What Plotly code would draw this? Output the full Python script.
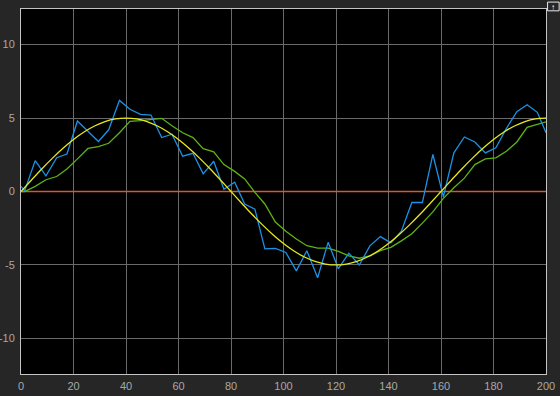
import plotly.graph_objects as go

# ---- data ----
t_sine = [0, 4, 8, 12, 16, 20, 24, 28, 32, 36, 40, 44, 48, 52, 56, 60, 64, 68, 72, 76,
          80, 84, 88, 92, 96, 100, 104, 108, 112, 116, 120, 124, 128, 132, 136, 140,
          144, 148, 152, 156, 160, 164, 168, 172, 176, 180, 184, 188, 192, 196, 200]
v_sine = [0.00, 0.78, 1.55, 2.27, 2.94, 3.54, 4.05, 4.46, 4.76, 4.94, 5.00, 4.94, 4.76,
          4.46, 4.05, 3.54, 2.94, 2.27, 1.55, 0.78, 0.00, -0.78, -1.55, -2.27, -2.94,
          -3.54, -4.05, -4.46, -4.76, -4.94, -5.00, -4.94, -4.76, -4.46, -4.05, -3.54,
          -2.94, -2.27, -1.55, -0.78, 0.00, 0.78, 1.55, 2.27, 2.94, 3.54, 4.05, 4.46,
          4.76, 4.94, 5.00]

t_meas = [0, 1.4, 5.4, 9.5, 13.6, 17.5, 21.5, 25.5, 29.5, 33.4, 37.5, 41.5, 45.5, 49.5,
          53.6, 57.5, 61.6, 65.5, 69.4, 73.4, 77.3, 81.4, 85.2, 89.1, 92.9, 96.9, 100.9,
          104.9, 108.9, 113.0, 117.0, 120.9, 124.9, 128.9, 132.9, 136.9, 140.9, 144.9,
          148.9, 152.9, 156.9, 160.9, 164.9, 168.9, 172.9, 176.9, 180.9, 184.9, 188.9,
          192.8, 196.7, 200]
v_noisy = [0.35, 0.05, 2.10, 1.07, 2.30, 2.55, 4.80, 4.10, 3.40, 4.20, 6.20, 5.60, 5.25,
           5.20, 3.67, 3.90, 2.40, 2.60, 1.20, 2.06, 0.15, 0.63, -0.86, -1.20, -3.90,
           -3.87, -4.15, -5.40, -4.03, -5.87, -3.46, -5.25, -4.20, -5.00, -3.70, -3.07,
           -3.50, -2.70, -0.75, -0.75, 2.52, -0.36, 2.63, 3.71, 3.37, 2.63, 2.98, 4.29,
           5.43, 5.90, 5.39, 4.00]
v_filtered = [0.00, 0.00, 0.35, 0.80, 1.02, 1.53, 2.22, 2.93, 3.05, 3.28, 4.00, 4.77, 4.82,
              4.92, 4.98, 4.47, 4.00, 3.67, 2.91, 2.70, 1.83, 1.37, 0.86, -0.06, -0.85,
              -2.08, -2.70, -3.23, -3.69, -3.85, -3.85, -4.08, -4.38, -4.54, -4.38, -4.03,
              -3.80, -3.36, -2.88, -2.15, -1.39, -0.47, 0.26, 0.91, 1.83, 2.22, 2.29, 2.74,
              3.37, 4.36, 4.54, 4.74]

t_zero = [0, 200]
v_zero = [0, 0]

x_ticks = [0, 20, 40, 60, 80, 100, 120, 140, 160, 180, 200]
y_ticks = [-10, -5, 0, 5, 10]
y_labels = ["-10", "-5", "0", "5", "10"]

fig = go.Figure()
fig.add_trace(go.Scatter(x=t_zero, y=v_zero, mode="lines",
                         line=dict(color="#d8582a", width=1.5)))
fig.add_trace(go.Scatter(x=t_meas, y=v_filtered, mode="lines",
                         line=dict(color="#5cb414", width=1.3)))
fig.add_trace(go.Scatter(x=t_meas, y=v_noisy, mode="lines",
                         line=dict(color="#1a92e6", width=1.3)))
fig.add_trace(go.Scatter(x=t_sine, y=v_sine, mode="lines", line_shape="spline",
                         line=dict(color="#e8e81c", width=1.3)))

axis_common = dict(showgrid=True, gridcolor="#6a6a6a", gridwidth=1, zeroline=False,
                   showline=True, linecolor="#c4c4c4", linewidth=1, mirror=True,
                   ticks="", automargin=False,
                   tickfont=dict(family="Liberation Sans, Arial", size=11,
                                 color="#a8a8a8"))

fig.update_layout(
    width=560, height=396,
    margin=dict(l=21, r=14, t=9, b=22),
    paper_bgcolor="#262626", plot_bgcolor="#000000",
    showlegend=False,
    xaxis=dict(range=[0, 200], tickvals=x_ticks, ticklabelstandoff=2, **axis_common),
    yaxis=dict(range=[-12.42, 12.42], tickvals=y_ticks, ticktext=y_labels,
               ticklabelstandoff=3, **axis_common),
    shapes=[dict(type="rect", xref="paper", yref="paper",
                 x0=1.003, x1=1.025, y0=0.995, y1=1.019,
                 line=dict(color="#e8e8e8", width=1), fillcolor="#262626")],
    annotations=[dict(text="↑", xref="paper", yref="paper", x=1.014, y=1.007,
                      showarrow=False, font=dict(size=8, color="#ffffff"),
                      xanchor="center", yanchor="middle")],
)

fig.write_html("out.html", config={"displayModeBar": False})
